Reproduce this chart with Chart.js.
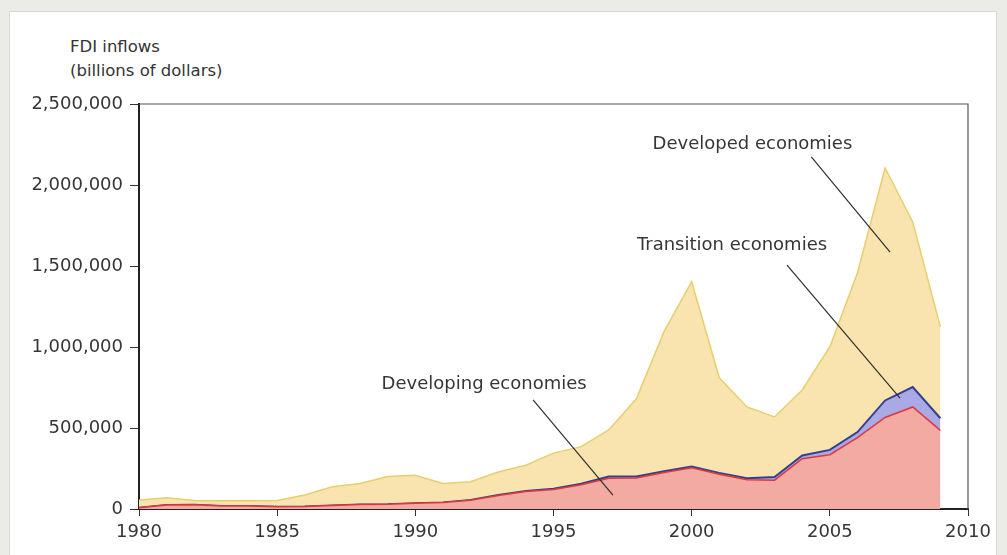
<!DOCTYPE html>
<html>
<head>
<meta charset="utf-8">
<script src="https://cdn.jsdelivr.net/npm/chart.js@4/dist/chart.umd.min.js"></script>
<style>
  body { margin: 0; background: #ebebe7; font-family: "DejaVu Sans", sans-serif; }
  #panel { position: absolute; left: 9px; top: 11px; width: 986px; height: 560px; background: #fff; border: 1px solid #d9d9d3; }
  #title { position: absolute; left: 70px; top: 35px; font-size: 16.5px; line-height: 24px; color: #333; }
  #wrap { position: absolute; left: 0; top: 0; width: 1007px; height: 555px; }
</style>
</head>
<body>
<div id="panel"></div>
<div id="title">FDI inflows<br>(billions of dollars)</div>
<div id="wrap"><canvas id="fdiChart" width="1007" height="555"></canvas></div>
<script>
// Years on the x axis
const years = [1980, 1981, 1982, 1983, 1984, 1985, 1986, 1987, 1988, 1989,
               1990, 1991, 1992, 1993, 1994, 1995, 1996, 1997, 1998, 1999,
               2000, 2001, 2002, 2003, 2004, 2005, 2006, 2007, 2008, 2009];

// Stacked series
const developing = [8000, 25000, 27000, 19000, 18000, 14000, 15000, 22000, 28000, 29000,
                    35000, 40000, 54000, 84000, 108000, 120000, 150000, 190000, 192000, 225000,
                    255000, 215000, 180000, 178000, 310000, 335000, 440000, 565000, 630000, 485000];
const transition = [0, 0, 0, 0, 0, 0, 0, 0, 0, 0,
                    0, 0, 2000, 3000, 3000, 5000, 6000, 10000, 8000, 8000,
                    7000, 8000, 10000, 20000, 20000, 30000, 35000, 105000, 123000, 75000];
const developed = [47000, 45000, 25000, 32000, 33000, 39000, 71000, 116000, 130000, 171000,
                   173000, 118000, 112000, 141000, 159000, 220000, 229000, 288000, 480000, 862000,
                   1141000, 587000, 440000, 370000, 405000, 635000, 982000, 1435000, 1019000, 564000];

// Axis ticks
const xTicks = [1980, 1985, 1990, 1995, 2000, 2005, 2010];
const yTicks = [0, 500000, 1000000, 1500000, 2000000, 2500000];

// Labels with leader lines, in data units (year, value)
const labelNames = ["Developed economies", "Transition economies", "Developing economies"];
const labelAt = [[2002.2, 2253000], [2001.46, 1630000], [1992.49, 772000]];
const leaderFrom = [[2004.33, 2173000], [2003.45, 1506000], [1994.26, 673000]];
const leaderTo = [[2007.18, 1586000], [2007.54, 685000], [1997.15, 86000]];

const toPoints = arr => years.map((yr, i) => ({ x: yr, y: arr[i] }));
const textColor = "#363636";
const font = { family: "'DejaVu Sans', sans-serif", size: 18 };

// Frame around the plot and the annotation labels
const framePlugin = {
    id: "frame",
    afterDraw(chart) {
        const { ctx, chartArea: a, scales } = chart;
        ctx.save();
        ctx.strokeStyle = "#555";
        ctx.lineWidth = 1.2;
        ctx.beginPath();
        ctx.moveTo(a.left, a.top);
        ctx.lineTo(a.right, a.top);
        ctx.lineTo(a.right, a.bottom);
        ctx.stroke();

        ctx.fillStyle = textColor;
        ctx.font = "18px " + font.family;
        ctx.textAlign = "center";
        ctx.textBaseline = "middle";
        ctx.strokeStyle = "#2e2e2e";
        ctx.lineWidth = 1.2;
        labelNames.forEach((name, i) => {
            ctx.fillText(name, scales.x.getPixelForValue(labelAt[i][0]), scales.y.getPixelForValue(labelAt[i][1]));
            ctx.beginPath();
            ctx.moveTo(scales.x.getPixelForValue(leaderFrom[i][0]), scales.y.getPixelForValue(leaderFrom[i][1]));
            ctx.lineTo(scales.x.getPixelForValue(leaderTo[i][0]), scales.y.getPixelForValue(leaderTo[i][1]));
            ctx.stroke();
        });
        ctx.restore();
    }
};

const ctx = document.getElementById("fdiChart").getContext("2d");
new Chart(ctx, {
    type: "line",
    data: {
        datasets: [{
            label: "Developing economies",
            data: toPoints(developing),
            borderColor: "#e0383a",
            backgroundColor: "#f2aaa2",
            borderWidth: 1.5,
            fill: "origin"
        }, {
            label: "Transition economies",
            data: toPoints(transition),
            borderColor: "#34408f",
            backgroundColor: "#a9a9e6",
            borderWidth: 2,
            fill: "-1"
        }, {
            label: "Developed economies",
            data: toPoints(developed),
            borderColor: "#e6cf6c",
            backgroundColor: "#f9e4b0",
            borderWidth: 1.5,
            fill: "-1"
        }]
    },
    options: {
        responsive: false,
        animation: false,
        elements: { point: { radius: 0 }, line: { tension: 0 } },
        layout: { padding: { top: 104, right: 39, left: 0, bottom: 0 } },
        plugins: { legend: { display: false }, tooltip: { enabled: false } },
        scales: {
            x: {
                type: "linear",
                min: 1980,
                max: 2010,
                afterBuildTicks: s => { s.ticks = xTicks.map(v => ({ value: v })); },
                afterFit: s => { s.height = 46; },
                ticks: { color: textColor, font: font, padding: 6, maxRotation: 0, callback: v => String(v) },
                grid: { drawOnChartArea: false, color: "#333", tickLength: 7, tickWidth: 1 },
                border: { color: "#222", width: 2 }
            },
            y: {
                stacked: true,
                min: 0,
                max: 2500000,
                afterBuildTicks: s => { s.ticks = yTicks.map(v => ({ value: v })); },
                afterFit: s => { s.width = 139; },
                ticks: { color: textColor, font: font, padding: 7, callback: v => v.toLocaleString("en-US") },
                grid: { drawOnChartArea: false, color: "#333", tickLength: 9, tickWidth: 1 },
                border: { color: "#222", width: 2 }
            }
        }
    },
    plugins: [framePlugin]
});
</script>
</body>
</html>
